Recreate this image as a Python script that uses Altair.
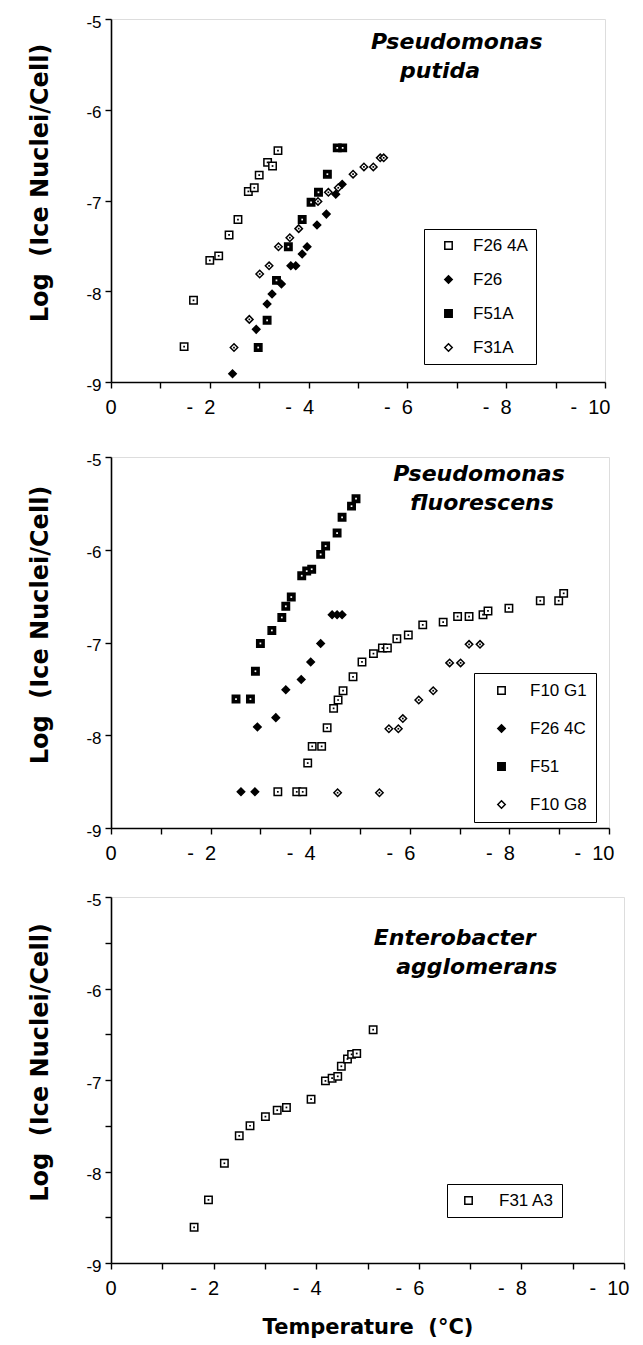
import altair as alt
import pandas as pd

# ---------------- data (temperature in °C, log ice nuclei per cell) ----------------
# Panel 1: Pseudomonas putida
TOP_STRAINS = ["F26 4A", "F26", "F51A", "F31A"]
top_f26_4a_t = [-1.48, -1.67, -2.00, -2.18, -2.39, -2.57, -2.78, -2.90, -3.00, -3.17, -3.27, -3.38]
top_f26_4a_v = [-8.61, -8.10, -7.66, -7.61, -7.38, -7.21, -6.90, -6.86, -6.72, -6.58, -6.62, -6.45]
top_f26_t = [-2.46, -2.94, -3.16, -3.26, -3.45, -3.64, -3.74, -3.87, -3.97, -4.17, -4.36, -4.55, -4.68]
top_f26_v = [-8.91, -8.42, -8.14, -8.03, -7.92, -7.72, -7.72, -7.59, -7.51, -7.27, -7.15, -6.93, -6.82]
top_f51a_t = [-2.98, -3.16, -3.35, -3.59, -3.87, -4.05, -4.20, -4.38, -4.58, -4.69]
top_f51a_v = [-8.62, -8.32, -7.88, -7.51, -7.21, -7.02, -6.91, -6.71, -6.42, -6.42]
top_f31a_t = [-2.49, -2.80, -3.01, -3.20, -3.39, -3.62, -3.80, -4.19, -4.40, -4.60, -4.90, -5.12, -5.31, -5.45, -5.52]
top_f31a_v = [-8.62, -8.31, -7.81, -7.72, -7.51, -7.41, -7.31, -7.01, -6.91, -6.86, -6.71, -6.63, -6.63, -6.53, -6.53]

# Panel 2: Pseudomonas fluorescens
MID_STRAINS = ["F10 G1", "F26 4C", "F51", "F10 G8"]
mid_f10g1_t = [-3.35, -3.73, -3.85, -3.95, -4.04, -4.23, -4.34, -4.47, -4.56, -4.66, -4.86, -5.04, -5.27,
               -5.45, -5.55, -5.74, -5.97, -6.26, -6.67, -6.96, -7.19, -7.47, -7.57, -7.99, -8.62, -8.99, -9.09]
mid_f10g1_v = [-8.61, -8.61, -8.61, -8.30, -8.12, -8.12, -7.92, -7.71, -7.62, -7.52, -7.37, -7.21, -7.12,
               -7.06, -7.06, -6.96, -6.92, -6.81, -6.78, -6.72, -6.72, -6.70, -6.66, -6.63, -6.55, -6.55, -6.47]
mid_f264c_t = [-2.61, -2.89, -2.94, -3.31, -3.51, -3.82, -4.01, -4.21, -4.44, -4.54, -4.64]
mid_f264c_v = [-8.61, -8.61, -7.91, -7.81, -7.51, -7.40, -7.21, -7.01, -6.70, -6.70, -6.70]
mid_f51_t = [-2.51, -2.80, -2.90, -3.00, -3.23, -3.43, -3.51, -3.62, -3.83, -3.93, -4.03, -4.21, -4.31,
             -4.54, -4.64, -4.83, -4.92]
mid_f51_v = [-7.61, -7.61, -7.31, -7.01, -6.87, -6.73, -6.61, -6.51, -6.28, -6.23, -6.21, -6.05, -5.96,
             -5.82, -5.65, -5.53, -5.45]
mid_f10g8_t = [-4.55, -5.39, -5.58, -5.77, -5.86, -6.18, -6.47, -6.80, -7.02, -7.19, -7.41]
mid_f10g8_v = [-8.62, -8.62, -7.93, -7.93, -7.82, -7.62, -7.52, -7.22, -7.22, -7.02, -7.02]

# Panel 3: Enterobacter agglomerans
BOT_STRAINS = ["F31 A3"]
bot_f31a3_t = [-1.62, -1.90, -2.21, -2.50, -2.71, -3.01, -3.24, -3.42, -3.90, -4.18, -4.31, -4.42, -4.49,
               -4.61, -4.69, -4.79, -5.11]
bot_f31a3_v = [-8.61, -8.31, -7.91, -7.61, -7.50, -7.40, -7.33, -7.30, -7.21, -7.01, -6.98, -6.96, -6.85,
               -6.77, -6.72, -6.71, -6.45]

# panel annotations (species names)
TOP_NAMES = ["Pseudomonas", "putida"]
MID_NAMES = ["Pseudomonas", "fluorescens"]
BOT_NAMES = ["Enterobacter", "agglomerans"]

X_TICKS = [0, -1, -2, -3, -4, -5, -6, -7, -8, -9, -10]
Y_TICKS = [-9, -8, -7, -6, -5]
Y_TICKS_FINE = [-9, -8.5, -8, -7.5, -7, -6.5, -6, -5.5, -5]


def frame(strains, ts, vs):
    rows = []
    for s, t, v in zip(strains, ts, vs):
        for a, b in zip(t, v):
            rows.append({"strain": s, "temp": a, "logn": b})
    return pd.DataFrame(rows)


top_df = frame(TOP_STRAINS, [top_f26_4a_t, top_f26_t, top_f51a_t, top_f31a_t],
               [top_f26_4a_v, top_f26_v, top_f51a_v, top_f31a_v])
mid_df = frame(MID_STRAINS, [mid_f10g1_t, mid_f264c_t, mid_f51_t, mid_f10g8_t],
               [mid_f10g1_v, mid_f264c_v, mid_f51_v, mid_f10g8_v])
bot_df = frame(BOT_STRAINS, [bot_f31a3_t], [bot_f31a3_v])

X_LABEL = "abs(datum.value) % 2 == 0 ? (datum.value == 0 ? '0' : '-\u00a0 ' + abs(datum.value)) : ''"
Y_LABEL = "datum.value % 1 == 0 ? '-' + abs(datum.value) : ''"

AX = dict(domainColor="black", domainWidth=1.6, tickColor="black", tickWidth=1.4,
          labelColor="black", titleColor="black", grid=False)


def panel(df, strains, shapes, fills, dots, names, name_pos, leg, width, height, yticks, xtitle):
    xaxis_kw = dict(values=X_TICKS, labelExpr=X_LABEL, tickSize=6,
                    labelPadding=9, labelFont="Liberation Sans", labelFontSize=20,
                    labelAlign="right", labelOffset=5, **AX)
    if xtitle:
        xaxis = alt.Axis(title=xtitle, titleFont="DejaVu Sans", titleFontWeight="bold",
                         titleFontSize=21, titlePadding=18, **xaxis_kw)
    else:
        xaxis = alt.Axis(title=None, **xaxis_kw)
    xs = alt.X("temp:Q", scale=alt.Scale(domain=[-10, 0], reverse=True, nice=False, zero=False),
               axis=xaxis)
    ys = alt.Y("logn:Q",
               scale=alt.Scale(domain=[-9, -5], nice=False, zero=False),
               axis=alt.Axis(values=yticks, labelExpr=Y_LABEL,
                             title="Log\u00a0 (Ice Nuclei/Cell)", tickSize=6, labelPadding=4,
                             labelFont="Liberation Sans", labelFontSize=17, labelOffset=3,
                             titleFont="DejaVu Sans", titleFontWeight="bold", titleFontSize=24,
                             titlePadding=33, titleY=height / 2 - 18, **AX))
    lg = alt.Legend(title=None, orient="none", direction="vertical",
                    legendX=leg["x"], legendY=leg["y"], padding=leg["pad"],
                    symbolOffset=leg["soff"], labelOffset=leg["loff"], rowPadding=leg["row"],
                    strokeColor="black", fillColor="white",
                    labelFont="Liberation Sans", labelFontSize=17, labelColor="black",
                    symbolSize=55, symbolStrokeWidth=1.5)
    pts = alt.Chart(df).mark_point(strokeWidth=1.5, opacity=1, size=55, fillOpacity=1).encode(
        x=xs, y=ys,
        shape=alt.Shape("strain:N", scale=alt.Scale(domain=strains, range=shapes), legend=lg),
        fill=alt.Fill("strain:N", scale=alt.Scale(domain=strains, range=fills), legend=lg),
        stroke=alt.Stroke("strain:N", scale=alt.Scale(domain=strains, range=["black"] * len(strains)),
                          legend=lg),
    )
    dot = alt.Chart(df).mark_point(shape="square", filled=True, size=3, opacity=1).encode(
        x=xs, y=ys,
        color=alt.Color("strain:N", scale=alt.Scale(domain=strains, range=dots), legend=None),
    )
    ndf = pd.DataFrame({"name": names, "temp": [p[0] for p in name_pos], "logn": [p[1] for p in name_pos]})
    txt = alt.Chart(ndf).mark_text(font="DejaVu Sans", fontWeight="bold", fontStyle="italic",
                                   fontSize=22, color="black", align="center", baseline="middle").encode(
        x=xs, y=ys, text="name:N")
    return alt.layer(pts, dot, txt).properties(width=width, height=height)


top = panel(top_df, TOP_STRAINS, ["square", "diamond", "square", "diamond"],
            ["white", "black", "black", "white"], ["black", "black", "white", "black"],
            TOP_NAMES, [(-7.0, -5.25), (-6.66, -5.57)],
            {"x": 313, "y": 210, "pad": 8, "soff": 8, "loff": 16, "row": 16},
            494, 363, Y_TICKS, None)
mid = panel(mid_df, MID_STRAINS, ["square", "diamond", "square", "diamond"],
            ["white", "black", "black", "white"], ["black", "black", "white", "black"],
            MID_NAMES, [(-7.39, -5.18), (-7.45, -5.50)],
            {"x": 363, "y": 216, "pad": 9, "soff": 10, "loff": 20, "row": 20},
            498, 371, Y_TICKS, None)
bot = panel(bot_df, BOT_STRAINS, ["square"], ["white"], ["black"],
            BOT_NAMES, [(-6.7, -5.45), (-7.13, -5.77)],
            {"x": 336, "y": 287, "pad": 8, "soff": 5, "loff": 22, "row": 16},
            513, 366, Y_TICKS_FINE, "Temperature\u00a0 (°C)")

upper = alt.vconcat(top, mid, spacing=32).resolve_scale(
    shape="independent", fill="independent", stroke="independent", color="independent",
    x="independent", y="independent")
chart = alt.vconcat(upper, bot, spacing=26).resolve_scale(
    shape="independent", fill="independent", stroke="independent", color="independent",
    x="independent", y="independent"
).properties(
    padding={"left": 20, "top": 4, "right": 5, "bottom": 5}
).configure_view(stroke=None).configure(background="white")

chart.save("out.html", embed_options={"renderer": "svg", "actions": False})
